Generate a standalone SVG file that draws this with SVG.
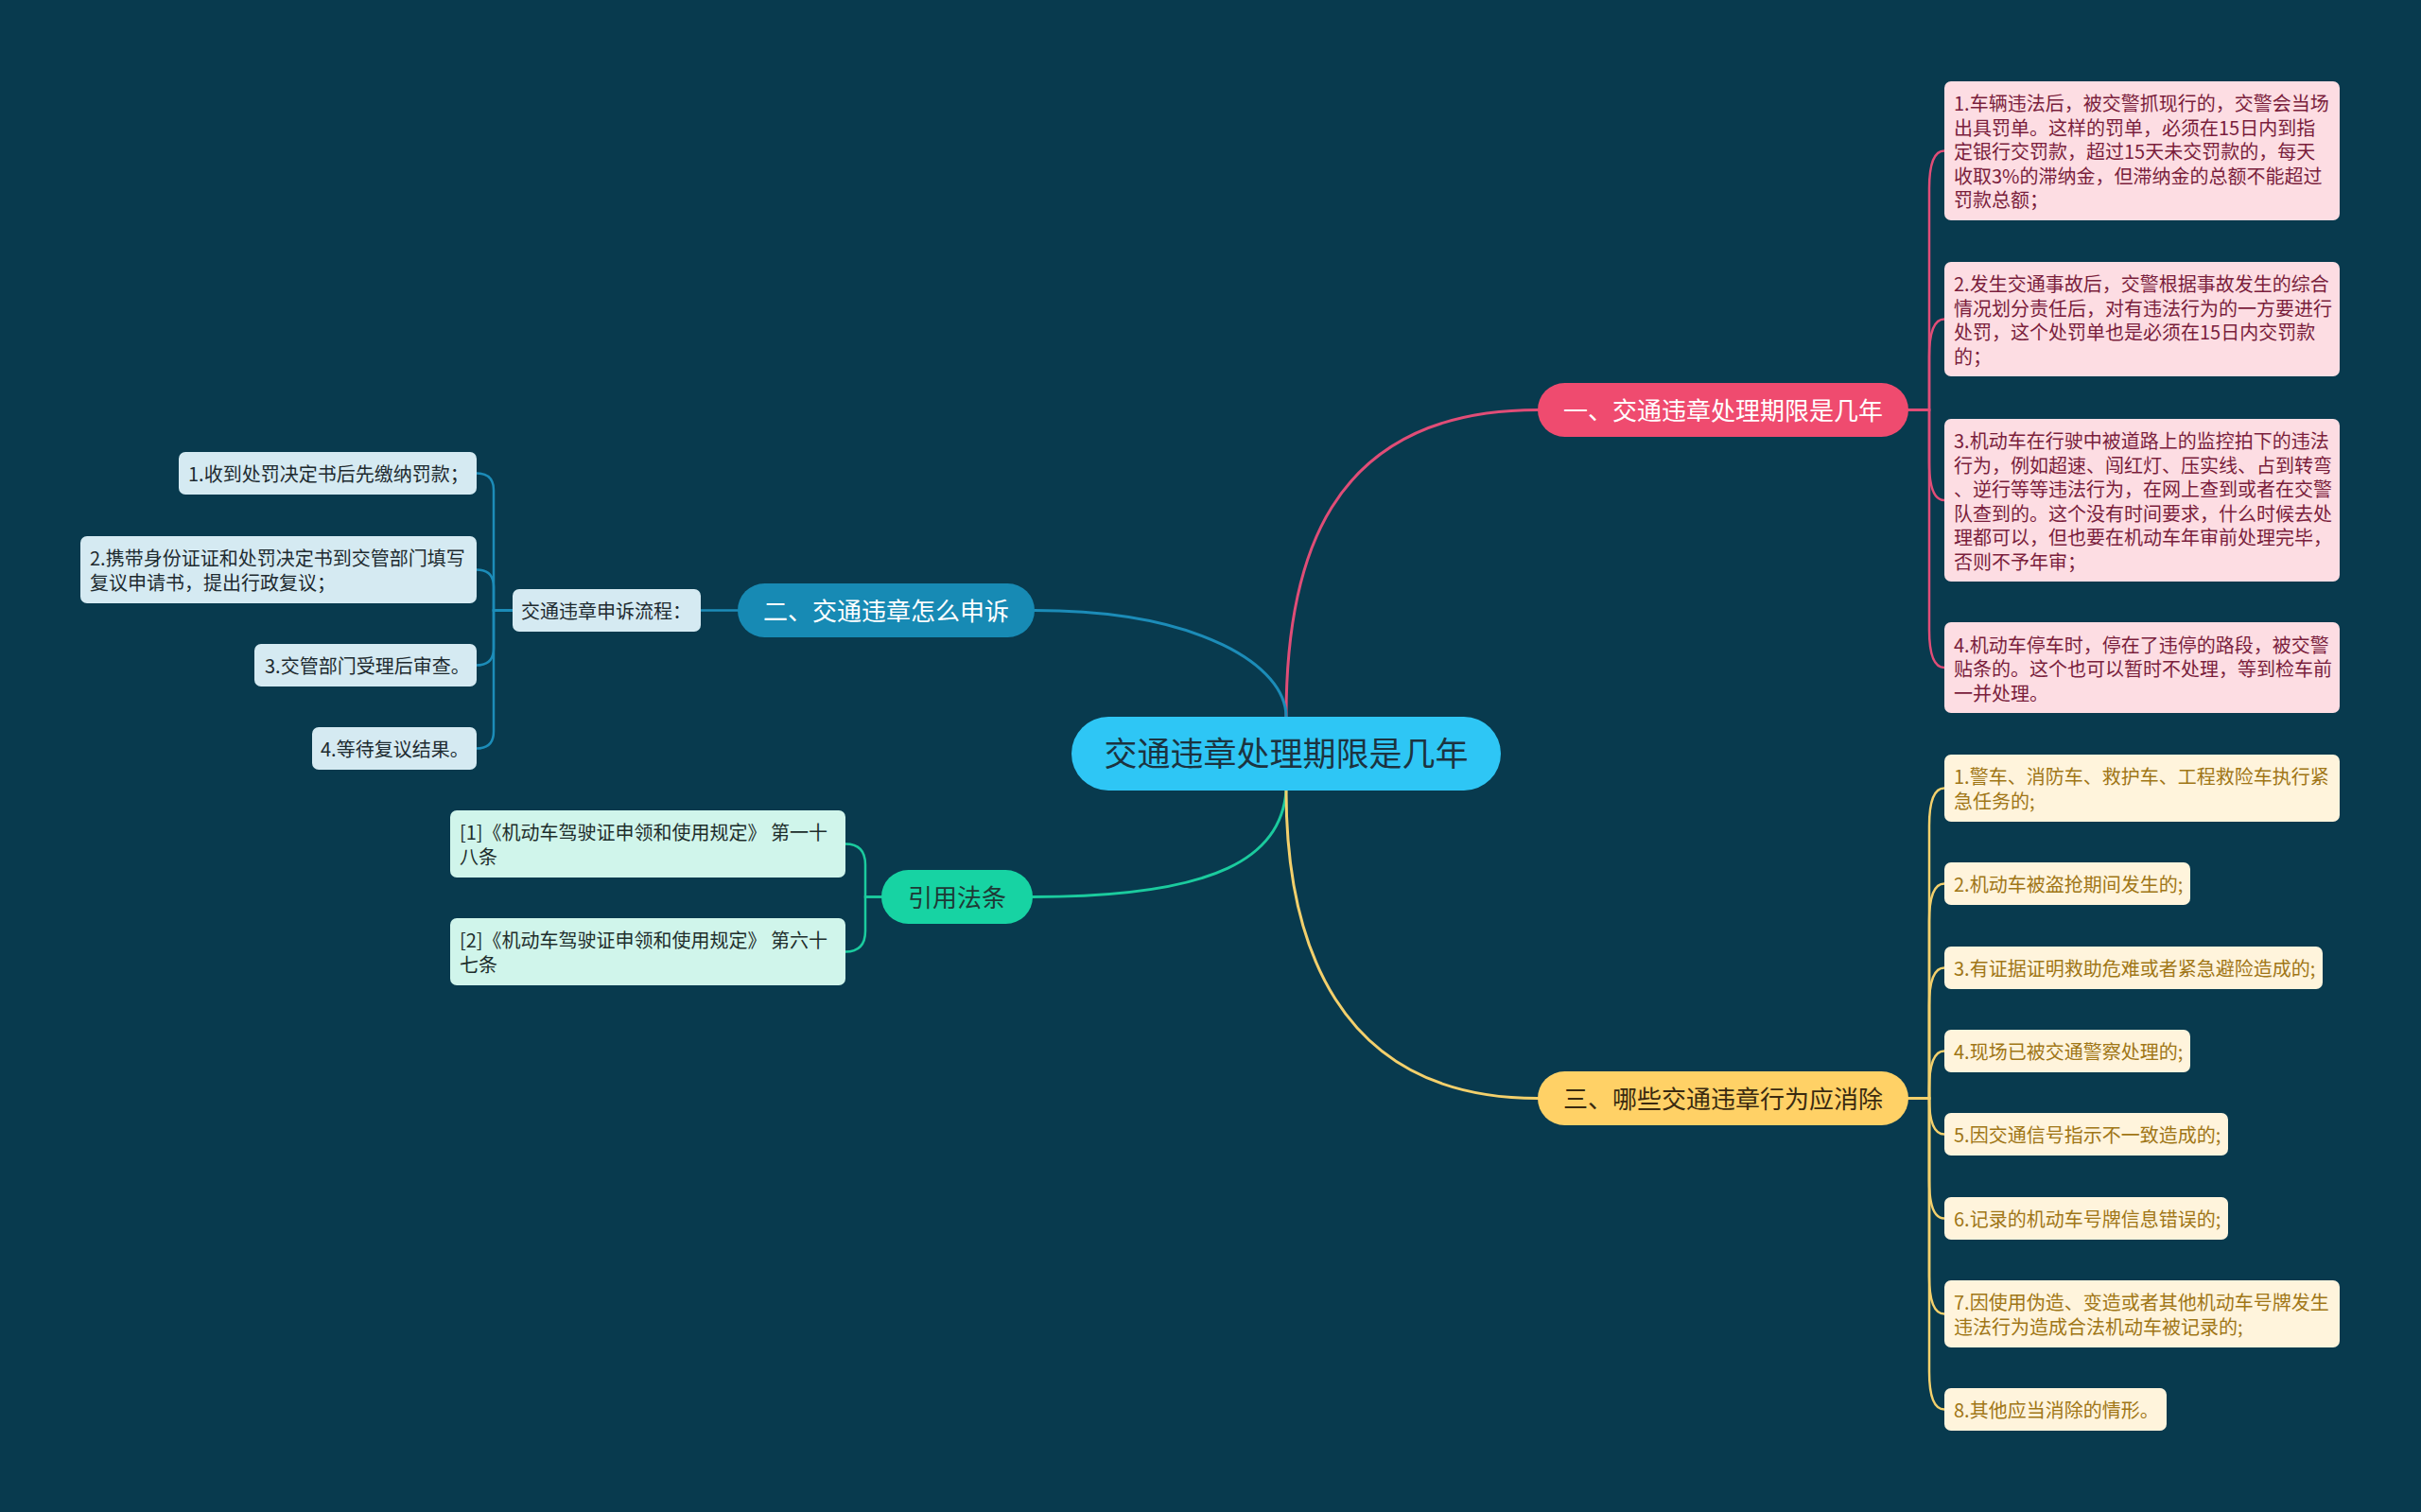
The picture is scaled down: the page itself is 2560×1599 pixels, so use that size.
<svg xmlns="http://www.w3.org/2000/svg" width="2560" height="1599" viewBox="0 0 2560 1599">
<style>
text{font-family:"Noto Sans CJK SC","Noto Sans",sans-serif;}
.leaf{font-size:20px;}
.br{font-size:26px;text-anchor:middle;}
.c{fill:none;stroke-width:2.5;stroke-linecap:round;}
.m{fill:none;stroke-width:3;stroke-linecap:round;}
.pk{stroke:#E04D77;}
.bl{stroke:#1C8CB8;}
.gn{stroke:#1BCB9E;}
.yl{stroke:#F3D06C;}
.pf{fill:#FDDDE3;}
.pt{fill:#7A1E3C;}
.yf{fill:#FFF4DC;}
.yt{fill:#A07616;}
.bf{fill:#D5EAF2;}
.bt{fill:#1E2B30;}
.gf{fill:#D0F5EB;}
.gt{fill:#1E2E2C;}
</style>
<rect x="0" y="0" width="2560" height="1599" fill="#083A4E"/>

<g id="connectors">
  <path class="m pk" d="M1360,758 C1360,600 1400,433.5 1626,433.5"/>
  <path class="m bl" d="M1360,758 C1360,705 1270,645.5 1094,645.5"/>
  <path class="m gn" d="M1360,836 C1355,905 1290,948.5 1092,948.5"/>
  <path class="m yl" d="M1360,836 C1360,990 1410,1161.5 1626,1161.5"/>

  <path class="c pk" d="M2018,433.5 H2040 V199.5 C2040,173.5 2045,159.5 2056,159.5"/>
  <path class="c pk" d="M2018,433.5 H2040 V377.5 C2040,351.5 2045,337.5 2056,337.5"/>
  <path class="c pk" d="M2018,433.5 H2040 V489 C2040,515 2045,529 2056,529"/>
  <path class="c pk" d="M2018,433.5 H2040 V666 C2040,692 2045,706 2056,706"/>

  <path class="c yl" d="M2018,1161.5 H2040 V873.5 C2040,847.5 2045,833.5 2056,833.5"/>
  <path class="c yl" d="M2018,1161.5 H2040 V974.5 C2040,948.5 2045,934.5 2056,934.5"/>
  <path class="c yl" d="M2018,1161.5 H2040 V1063.5 C2040,1037.5 2045,1023.5 2056,1023.5"/>
  <path class="c yl" d="M2018,1161.5 H2040 V1151.5 C2040,1125.5 2045,1111.5 2056,1111.5"/>
  <path class="c yl" d="M2018,1161.5 H2040 C2040,1185.5 2045,1199.5 2056,1199.5"/>
  <path class="c yl" d="M2018,1161.5 H2040 V1248.5 C2040,1274.5 2045,1288.5 2056,1288.5"/>
  <path class="c yl" d="M2018,1161.5 H2040 V1349.5 C2040,1375.5 2045,1389.5 2056,1389.5"/>
  <path class="c yl" d="M2018,1161.5 H2040 V1450.5 C2040,1476.5 2045,1490.5 2056,1490.5"/>

  <path class="c bl" d="M780,645.5 H741"/>
  <path class="c bl" d="M542,645.5 H522 V518.5 Q522,500.5 504,500.5"/>
  <path class="c bl" d="M542,645.5 H522 V620.5 Q522,602.5 504,602.5"/>
  <path class="c bl" d="M542,645.5 H522 V685.5 Q522,703.5 504,703.5"/>
  <path class="c bl" d="M542,645.5 H522 V773.5 Q522,791.5 504,791.5"/>

  <path class="c gn" d="M932,948.5 H915 V914.5 Q915,892.5 894,892.5"/>
  <path class="c gn" d="M932,948.5 H915 V984.5 Q915,1006.5 894,1006.5"/>
</g>

<g id="center">
  <rect x="1133" y="758" width="454" height="78" rx="39" fill="#2EC6F5"/>
  <text x="1360" y="810" font-size="35" text-anchor="middle" fill="#1C3340">交通违章处理期限是几年</text>
</g>

<g id="branch1">
  <rect x="1626" y="405" width="392" height="57" rx="28.5" fill="#EF4B6F"/>
  <text class="br" x="1822" y="443.5" fill="#FFFFFF">一、交通违章处理期限是几年</text>
</g>
<g id="branch2">
  <rect x="780" y="617" width="314" height="57" rx="28.5" fill="#178AB4"/>
  <text class="br" x="937" y="655.5" fill="#FFFFFF">二、交通违章怎么申诉</text>
</g>
<g id="branch-law">
  <rect x="932" y="920" width="160" height="57" rx="28.5" fill="#17D3A3"/>
  <text class="br" x="1012" y="958.5" fill="#1E3A36">引用法条</text>
</g>
<g id="branch3">
  <rect x="1626" y="1133" width="392" height="57" rx="28.5" fill="#FFD166"/>
  <text class="br" x="1822" y="1171.5" fill="#3A2A10">三、哪些交通违章行为应消除</text>
</g>

<g id="p1">
  <rect class="pf" x="2056" y="86" width="418" height="147" rx="7"/>
  <text class="leaf pt"><tspan x="2066" y="117">1.车辆违法后，被交警抓现行的，交警会当场</tspan><tspan x="2066" y="142.5">出具罚单。这样的罚单，必须在15日内到指</tspan><tspan x="2066" y="168">定银行交罚款，超过15天未交罚款的，每天</tspan><tspan x="2066" y="193.5">收取3%的滞纳金，但滞纳金的总额不能超过</tspan><tspan x="2066" y="219">罚款总额；</tspan></text>
</g>
<g id="p2">
  <rect class="pf" x="2056" y="277" width="418" height="121" rx="7"/>
  <text class="leaf pt"><tspan x="2066" y="308">2.发生交通事故后，交警根据事故发生的综合</tspan><tspan x="2066" y="333.5">情况划分责任后，对有违法行为的一方要进行</tspan><tspan x="2066" y="359">处罚，这个处罚单也是必须在15日内交罚款</tspan><tspan x="2066" y="384.5">的；</tspan></text>
</g>
<g id="p3">
  <rect class="pf" x="2056" y="443" width="418" height="172" rx="7"/>
  <text class="leaf pt"><tspan x="2066" y="474">3.机动车在行驶中被道路上的监控拍下的违法</tspan><tspan x="2066" y="499.5">行为，例如超速、闯红灯、压实线、占到转弯</tspan><tspan x="2066" y="525">、逆行等等违法行为，在网上查到或者在交警</tspan><tspan x="2066" y="550.5">队查到的。这个没有时间要求，什么时候去处</tspan><tspan x="2066" y="576">理都可以，但也要在机动车年审前处理完毕，</tspan><tspan x="2066" y="601.5">否则不予年审；</tspan></text>
</g>
<g id="p4">
  <rect class="pf" x="2056" y="658" width="418" height="96" rx="7"/>
  <text class="leaf pt"><tspan x="2066" y="689.5">4.机动车停车时，停在了违停的路段，被交警</tspan><tspan x="2066" y="715">贴条的。这个也可以暂时不处理，等到检车前</tspan><tspan x="2066" y="740.5">一并处理。</tspan></text>
</g>

<g id="y1">
  <rect class="yf" x="2056" y="798" width="418" height="71" rx="7"/>
  <text class="leaf yt"><tspan x="2066" y="829">1.警车、消防车、救护车、工程救险车执行紧</tspan><tspan x="2066" y="854.5">急任务的;</tspan></text>
</g>
<g id="y2">
  <rect class="yf" x="2056" y="912" width="260" height="45" rx="7"/>
  <text class="leaf yt" x="2066" y="943">2.机动车被盗抢期间发生的;</text>
</g>
<g id="y3">
  <rect class="yf" x="2056" y="1001" width="400" height="45" rx="7"/>
  <text class="leaf yt" x="2066" y="1032">3.有证据证明救助危难或者紧急避险造成的;</text>
</g>
<g id="y4">
  <rect class="yf" x="2056" y="1089" width="260" height="45" rx="7"/>
  <text class="leaf yt" x="2066" y="1120">4.现场已被交通警察处理的;</text>
</g>
<g id="y5">
  <rect class="yf" x="2056" y="1177" width="300" height="45" rx="7"/>
  <text class="leaf yt" x="2066" y="1208">5.因交通信号指示不一致造成的;</text>
</g>
<g id="y6">
  <rect class="yf" x="2056" y="1266" width="300" height="45" rx="7"/>
  <text class="leaf yt" x="2066" y="1297">6.记录的机动车号牌信息错误的;</text>
</g>
<g id="y7">
  <rect class="yf" x="2056" y="1354" width="418" height="71" rx="7"/>
  <text class="leaf yt"><tspan x="2066" y="1385">7.因使用伪造、变造或者其他机动车号牌发生</tspan><tspan x="2066" y="1410.5">违法行为造成合法机动车被记录的;</tspan></text>
</g>
<g id="y8">
  <rect class="yf" x="2056" y="1468" width="235" height="45" rx="7"/>
  <text class="leaf yt" x="2066" y="1499">8.其他应当消除的情形。</text>
</g>

<g id="sub-appeal">
  <rect class="bf" x="542" y="623" width="199" height="45" rx="7"/>
  <text class="leaf bt" x="551" y="654">交通违章申诉流程：</text>
</g>
<g id="l1">
  <rect class="bf" x="189" y="478" width="315" height="45" rx="7"/>
  <text class="leaf bt" x="199" y="509">1.收到处罚决定书后先缴纳罚款；</text>
</g>
<g id="l2">
  <rect class="bf" x="85" y="567" width="419" height="71" rx="7"/>
  <text class="leaf bt"><tspan x="95" y="598">2.携带身份证证和处罚决定书到交管部门填写</tspan><tspan x="95" y="623.5">复议申请书，提出行政复议；</tspan></text>
</g>
<g id="l3">
  <rect class="bf" x="269" y="681" width="235" height="45" rx="7"/>
  <text class="leaf bt" x="280" y="712">3.交管部门受理后审查。</text>
</g>
<g id="l4">
  <rect class="bf" x="330" y="769" width="174" height="45" rx="7"/>
  <text class="leaf bt" x="339" y="800">4.等待复议结果。</text>
</g>

<g id="g1">
  <rect class="gf" x="476" y="857" width="418" height="71" rx="7"/>
  <text class="leaf gt"><tspan x="486" y="888">[1]《机动车驾驶证申领和使用规定》 第一十</tspan><tspan x="486" y="913.5">八条</tspan></text>
</g>
<g id="g2">
  <rect class="gf" x="476" y="971" width="418" height="71" rx="7"/>
  <text class="leaf gt"><tspan x="486" y="1002">[2]《机动车驾驶证申领和使用规定》 第六十</tspan><tspan x="486" y="1027.5">七条</tspan></text>
</g>
</svg>
